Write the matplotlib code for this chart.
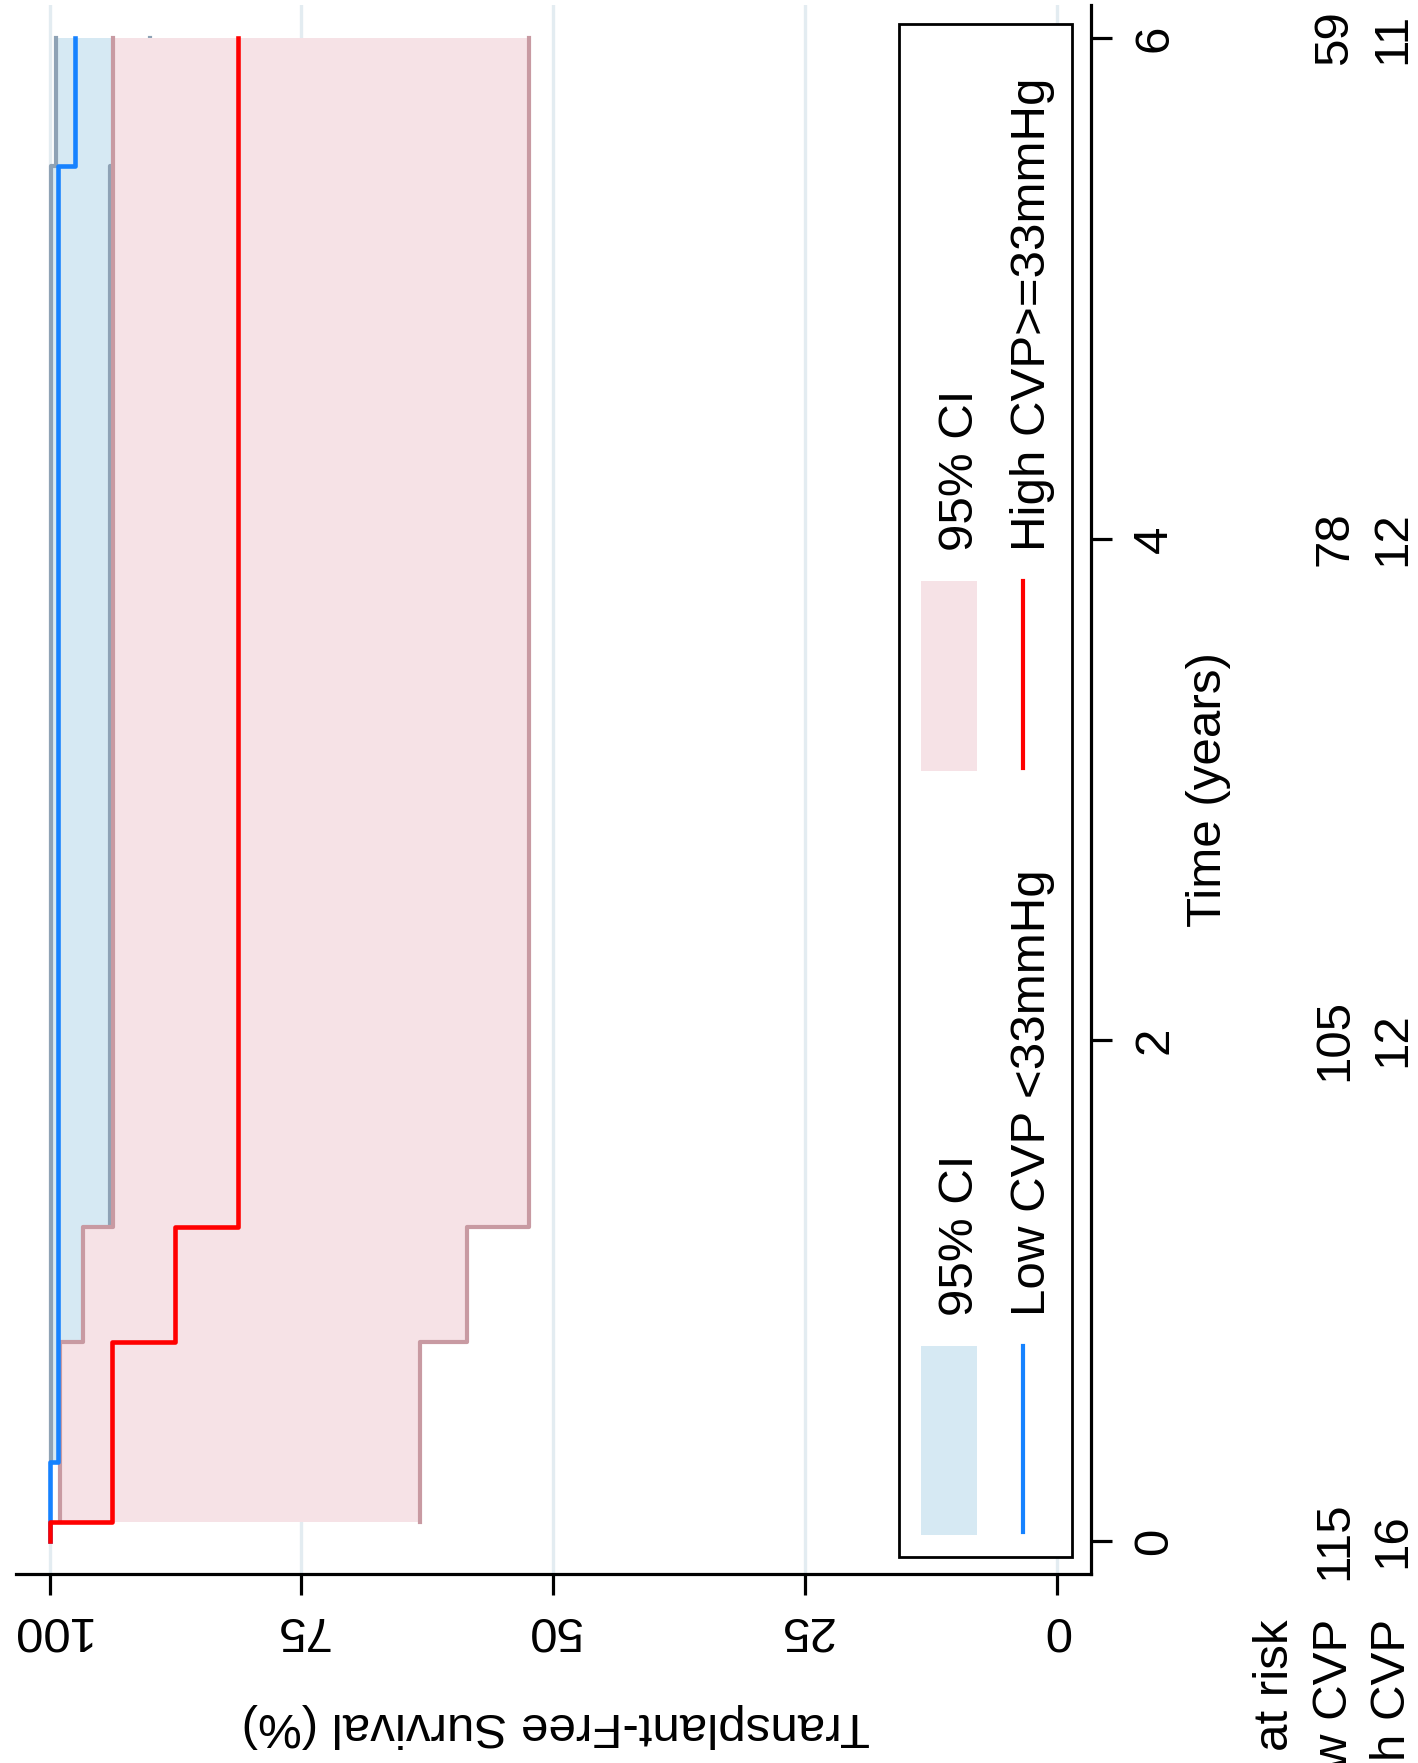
import numpy as np
import matplotlib
matplotlib.use("Agg")
import matplotlib.pyplot as plt
import matplotlib.transforms as mtransforms
from matplotlib.patches import Rectangle
from matplotlib.lines import Line2D

plt.rcParams['font.family'] = ['Liberation Sans', 'DejaVu Sans']

# KM curves, survival in %
low_t = [0.0, 0.317, 5.49, 6.0]
low_s = [100.0, 99.13, 97.5, 97.5]
low_ci_t = [0.317, 5.49, 6.0]
low_ci_lo = [93.95, 90.0, 90.0]
low_ci_hi = [99.88, 99.4, 99.4]

high_t = [0.0, 0.075, 0.796, 1.255, 6.0]
high_s = [100.0, 93.75, 87.5, 81.25, 81.25]
high_ci_t = [0.075, 0.796, 1.255, 6.0]
high_ci_lo = [63.2, 58.6, 52.4, 52.4]
high_ci_hi = [99.0, 96.7, 93.7, 93.7]

risk_times = [0, 2, 4, 6]
risk_low = [115, 105, 78, 59]
risk_high = [16, 12, 12, 11]
surv_ticks = [100, 75, 50, 25, 0]
time_ticks = [0, 2, 4, 6]

W, H = 1418, 1763
FS = 35.5
blue = '#1682ff'
red = '#ff0000'
blue_fill = '#d6e9f3'
pink_fill = '#f6e2e6'
blue_edge = '#8ea2b5'
pink_edge = '#c89aa2'


def fx(x):
    return x / W


def fy(y):
    return 1 - y / H


def stairs(t, v):
    # turn a post-step function into x/y vertices (x = survival, y = time)
    tt = np.repeat(t, 2)[1:]
    vv = np.repeat(v, 2)[:-1]
    return vv, tt


fig = plt.figure(figsize=(W / 100, H / 100), dpi=100)
ax = fig.add_axes([fx(16), fy(1574), fx(1091) - fx(16), fy(5) - fy(1574)])

# CI bands, low group first then high group on top
ax.fill_betweenx(low_ci_t, low_ci_lo, low_ci_hi, step='post', color=blue_fill, lw=0, zorder=2)
for b in (low_ci_lo, low_ci_hi):
    xs, ys = stairs(low_ci_t, b)
    ax.plot(xs, ys, color=blue_edge, lw=3.0, zorder=2.1)
ax.fill_betweenx(high_ci_t, high_ci_lo, high_ci_hi, step='post', color=pink_fill, lw=0, zorder=3)
for b in (high_ci_lo, high_ci_hi):
    xs, ys = stairs(high_ci_t, b)
    ax.plot(xs, ys, color=pink_edge, lw=3.0, zorder=3.1)

xs, ys = stairs(low_t, low_s)
ax.plot(xs, ys, color=blue, lw=3.3, zorder=4)
xs, ys = stairs(high_t, high_s)
ax.plot(xs, ys, color=red, lw=3.3, zorder=5)

ax.set_xlim(100 + 33.5 / 10.075, -34 / 10.075)
ax.set_ylim(-33 / 250.5, 1536 / 250.5)
ax.set_xticks(surv_ticks)
ax.set_yticks(time_ticks)
ax.yaxis.tick_right()
ax.tick_params(axis='x', direction='out', length=15, width=2.3, labelbottom=False)
ax.tick_params(axis='y', direction='out', length=15, width=2.3, labelright=False, labelleft=False)
ax.grid(axis='x', color='#e3ecf1', lw=2.4)
ax.grid(axis='y', visible=False)
ax.set_axisbelow(True)
for s in ('top', 'left'):
    ax.spines[s].set_visible(False)
for s in ('bottom', 'right'):
    ax.spines[s].set_linewidth(2.3)

# tick labels and axis titles (figure is turned on its side)
tr_x = mtransforms.blended_transform_factory(ax.transData, fig.transFigure)
tr_y = mtransforms.blended_transform_factory(fig.transFigure, ax.transData)
for v in surv_ticks:
    fig.text(v, fy(1617), str(v), transform=tr_x, rotation=180, rotation_mode='anchor',
             ha='center', va='baseline', fontsize=FS)
fig.text(fx(556), fy(1713), 'Transplant-Free Survival (%)', rotation=180, rotation_mode='anchor',
         ha='center', va='baseline', fontsize=FS)
for t in time_ticks:
    fig.text(fx(1167), t, str(t), transform=tr_y, rotation=90, rotation_mode='anchor',
             ha='center', va='baseline', fontsize=FS)
fig.text(fx(1221), 3.0, 'Time (years)', transform=tr_y, rotation=90, rotation_mode='anchor',
         ha='center', va='baseline', fontsize=FS)

# number at risk table (row labels run off the edge as in the source)
fig.text(fx(1288), fy(1619), 'Number at risk', rotation=90, rotation_mode='anchor',
         ha='right', va='baseline', fontsize=FS)
for xb, name, vals in ((1347, 'Low CVP', risk_low), (1405, 'High CVP', risk_high)):
    fig.text(fx(xb), fy(1619), name, rotation=90, rotation_mode='anchor',
             ha='right', va='baseline', fontsize=FS)
    for t, n in zip(risk_times, vals):
        fig.text(fx(xb), t, str(n), transform=tr_y, rotation=90, rotation_mode='anchor',
                 ha='center', va='baseline', fontsize=FS)

# legend drawn by hand, rotated
fig.add_artist(Rectangle((fx(899), fy(1557)), fx(1072) - fx(899), fy(24) - fy(1557),
                         transform=fig.transFigure, facecolor='white', edgecolor='black',
                         lw=2.0, zorder=6))
entries = [(1535, 1346, blue_fill, blue, 'Low CVP <33mmHg', 1316),
           (771, 581, pink_fill, red, 'High CVP>=33mmHg', 551)]
for y0, y1, fc, lc, lab, ty in entries:
    fig.add_artist(Rectangle((fx(921), fy(y0)), fx(977) - fx(921), fy(y1) - fy(y0),
                             transform=fig.transFigure, facecolor=fc, lw=0, zorder=7))
    fig.add_artist(Line2D([fx(1023), fx(1023)], [fy(y0 - 3), fy(y1)], transform=fig.transFigure,
                          color=lc, lw=3.0, zorder=7))
    fig.text(fx(973), fy(ty), '95% CI', rotation=90, rotation_mode='anchor',
             ha='left', va='baseline', fontsize=FS, zorder=8)
    fig.text(fx(1045), fy(ty), lab, rotation=90, rotation_mode='anchor',
             ha='left', va='baseline', fontsize=FS, zorder=8)

fig.savefig('out.png', dpi=100)
